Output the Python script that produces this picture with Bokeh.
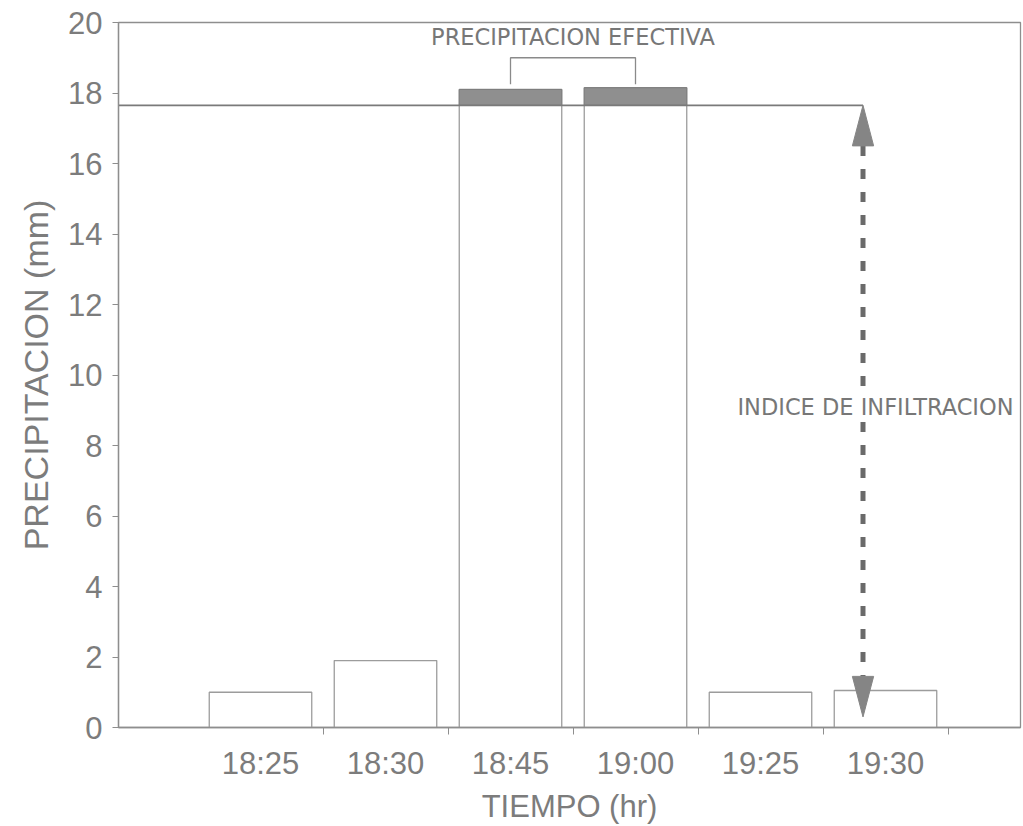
from bokeh.plotting import figure
from bokeh.models import Range1d, FixedTicker, Label
from bokeh.embed import file_html
from bokeh.resources import INLINE

# ---- data ----
categories = ["18:25", "18:30", "18:45", "19:00", "19:25", "19:30"]
precip = [1.0, 1.9, 18.1, 18.15, 1.0, 1.05]
phi_index = 17.65         # índice de infiltración (mm)
y_ticks = [0, 2, 4, 6, 8, 10, 12, 14, 16, 18, 20]

xs = list(range(len(categories)))
eff_x = [x for x, v in zip(xs, precip) if v > phi_index]
eff_top = [v for v in precip if v > phi_index]

GRAY_TXT = "#7c7c7c"
GRAY_LN = "#8e8e8e"
DARK = "#6a6a6a"

p = figure(width=1023, height=826,
           x_range=Range1d(-1.136, 6.08), y_range=Range1d(0, 20),
           output_backend="svg", toolbar_location=None,
           min_border_left=118, min_border_right=3,
           min_border_top=22, min_border_bottom=90)
p.background_fill_color = "white"
p.border_fill_color = "white"
p.outline_line_color = GRAY_LN
p.outline_line_width = 1.3
p.xgrid.visible = False
p.ygrid.visible = False

# bars
p.vbar(x=xs, top=precip, bottom=0, width=0.82,
       fill_color="white", line_color="#9c9c9c", line_width=1.3)

# effective precipitation (portion above phi index)
p.vbar(x=eff_x, top=eff_top, bottom=phi_index, width=0.82,
       fill_color="#8f8f8f", line_color="#7d7d7d", line_width=1)

# phi-index line from axis to the arrow
arrow_x = xs[-1] - 0.18
p.line(x=[p.x_range.start, arrow_x], y=[phi_index, phi_index],
       line_color="#7a7a7a", line_width=1.6)

# double arrow (dashed shaft + two heads)
arrow_bottom = 0.3
head_len = 1.15
head_hw = 0.085
p.segment(x0=[arrow_x], y0=[phi_index - head_len], x1=[arrow_x], y1=[arrow_bottom + head_len],
          line_color=DARK, line_width=5, line_dash="10 13")
p.patches(xs=[[arrow_x, arrow_x - head_hw, arrow_x + head_hw],
              [arrow_x, arrow_x - head_hw, arrow_x + head_hw]],
          ys=[[phi_index, phi_index - head_len, phi_index - head_len],
              [arrow_bottom, arrow_bottom + head_len, arrow_bottom + head_len]],
          fill_color="#858585", line_color="#858585", line_width=1)

# bracket over effective precipitation
br_top = 19.0
br_leg = 18.25
p.line(x=[eff_x[0], eff_x[0], eff_x[-1], eff_x[-1]],
       y=[br_leg, br_top, br_top, br_leg],
       line_color="#8a8a8a", line_width=1.3)

p.add_layout(Label(x=sum(eff_x) / len(eff_x), y=19.6, text="PRECIPITACION EFECTIVA",
                   text_align="center", text_baseline="middle",
                   text_font="DejaVu Sans", text_font_size="22.5px", text_color="#777777"))

p.add_layout(Label(x=arrow_x + 0.1, y=9.1, text="INDICE DE INFILTRACION",
                   text_align="center", text_baseline="middle",
                   text_font="DejaVu Sans", text_font_size="22.5px", text_color="#777777",
                   background_fill_color="white"))

# axes
xa = p.xaxis[0]
xa.ticker = FixedTicker(ticks=xs, minor_ticks=[x + 0.5 for x in xs])
xa.major_label_overrides = {x: c for x, c in zip(xs, categories)}
xa.major_tick_out = 0
xa.major_tick_in = 0
xa.minor_tick_out = 7
xa.minor_tick_in = 0
xa.axis_label = "TIEMPO (hr)"

ya = p.yaxis[0]
ya.ticker = FixedTicker(ticks=y_ticks)
ya.major_tick_out = 6
ya.major_tick_in = 0
ya.minor_tick_out = 0
ya.minor_tick_in = 0
ya.axis_label = "PRECIPITACION (mm)"

for ax in (xa, ya):
    ax.axis_line_color = GRAY_LN
    ax.axis_line_width = 1.3
    ax.major_tick_line_color = GRAY_LN
    ax.minor_tick_line_color = GRAY_LN
    ax.major_label_text_font = "Liberation Sans"
    ax.major_label_text_font_size = "31px"
    ax.major_label_text_color = GRAY_TXT
    ax.axis_label_text_font = "Liberation Sans"
    ax.axis_label_text_font_style = "normal"
    ax.axis_label_text_color = GRAY_TXT

xa.axis_label_text_font_size = "31px"
ya.axis_label_text_font_size = "34px"
xa.major_label_standoff = 11
xa.axis_label_standoff = 5
ya.major_label_standoff = 10
ya.axis_label_standoff = 10

open("out.html", "w").write(file_html(p, INLINE))
